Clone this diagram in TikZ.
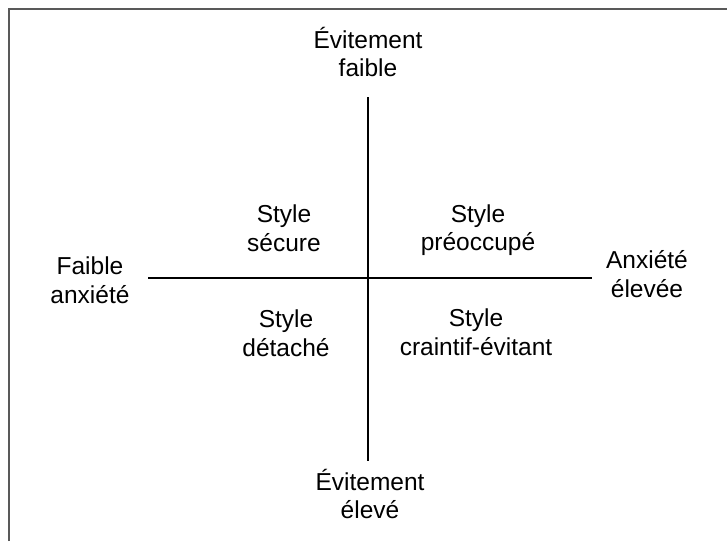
\documentclass[tikz,border=0pt]{standalone}
\usepackage{fontspec}
\setmainfont{Liberation Sans}
\definecolor{framegray}{rgb}{0.35, 0.35, 0.35}

\begin{document}
\begin{tikzpicture}[x=1pt,y=-1pt,
    lbl/.style={align=center, inner sep=0pt, font=\fontsize{24.5}{28.5}\selectfont}]
            \useasboundingbox (0,0) rectangle (727,541);
            % frame
            \draw[framegray, line width=2pt] (9,541) -- (9,9) -- (727,9);

            % axis labels
            \node[lbl] (evfaible) at (368,52) {Évitement\\faible};
            \node[lbl] (eveleve) at (370,494) {Évitement\\élevé};
            \node[lbl] (anxfaible) at (90,280) {Faible\\anxiété};
            \node[lbl] (anxeleve) at (647,274) {Anxiété\\élevée};

            % quadrants
            \node[lbl] (secure) at (284,228) {Style\\sécure};
            \node[lbl] (preoccupe) at (478,230) {Style\\préoccupé};
            \node[lbl] (detache) at (286,333) {Style\\détaché};
            \node[lbl] (craintif) at (476,332) {Style\\craintif-évitant};

            % axes
            \coordinate (vtop) at (368,97);
            \coordinate (vbot) at (368,461);
            \coordinate (hleft) at (148,278);
            \coordinate (hright) at (592,278);
            \draw[line width=1.6pt] (vtop) -- (vbot);
            \draw[line width=1.6pt] (hleft) -- (hright);

        \end{tikzpicture}
\end{document}
